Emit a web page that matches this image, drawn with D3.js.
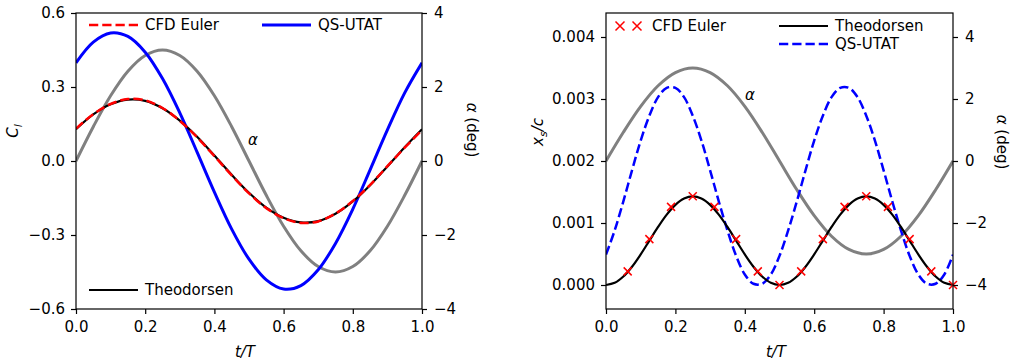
<!DOCTYPE html>
<html>
<head>
<meta charset="utf-8">
<script src="https://cdn.jsdelivr.net/npm/d3@7"></script>
<style>
  body { margin: 0; background: #fff; }
  svg { font-family: "DejaVu Sans", sans-serif; }
  .tick text { font-family: "DejaVu Sans", sans-serif; font-size: 15px; fill: #000; }
  .domain { display: none; }
  .tick line { stroke: #000; stroke-width: 1.2; }
</style>
</head>
<body>
<svg id="chart" width="1020" height="364"></svg>
<script>
// --- data --------------------------------------------------------------------

// left panel: lift coefficient vs t/T (samples every 0.05)
const tL = d3.range(21).map(i => i * 0.05);
const clTheodorsen = [0.129, 0.189, 0.230, 0.249, 0.244, 0.214, 0.164, 0.098, 0.022, -0.056,
  -0.129, -0.189, -0.230, -0.249, -0.244, -0.214, -0.164, -0.098, -0.022, 0.056, 0.129];
const clCFD = [0.131, 0.190, 0.231, 0.251, 0.246, 0.215, 0.163, 0.096, 0.020, -0.058,
  -0.131, -0.191, -0.232, -0.251, -0.245, -0.213, -0.162, -0.097, -0.021, 0.054, 0.125];
const clQS = [0.398, 0.482, 0.519, 0.505, 0.441, 0.334, 0.195, 0.036, -0.126, -0.276,
  -0.398, -0.482, -0.519, -0.505, -0.441, -0.334, -0.195, -0.036, 0.126, 0.276, 0.398];
const alphaDeg = [0, 0.927, 1.763, 2.427, 2.853, 3.0, 2.853, 2.427, 1.763, 0.927,
  0, -0.927, -1.763, -2.427, -2.853, -3.0, -2.853, -2.427, -1.763, -0.927, 0];

// right panel: separation point x_s/c vs t/T (samples every 0.025)
const tR = d3.range(41).map(i => i * 0.025);
const xsTheodorsen = [0, 0.000035, 0.000137, 0.000295, 0.000494, 0.000715, 0.000936, 0.001135, 0.001293, 0.001395,
  0.00143, 0.001395, 0.001293, 0.001135, 0.000936, 0.000715, 0.000494, 0.000295, 0.000137, 0.000035,
  0, 0.000035, 0.000137, 0.000295, 0.000494, 0.000715, 0.000936, 0.001135, 0.001293, 0.001395,
  0.00143, 0.001395, 0.001293, 0.001135, 0.000936, 0.000715, 0.000494, 0.000295, 0.000137, 0.000035, 0];
const xsQS = [0.00049, 0.00088, 0.00135, 0.00185, 0.00233, 0.00273, 0.00303, 0.00318, 0.00318, 0.00303,
  0.00273, 0.00233, 0.00185, 0.00135, 0.00088, 0.00047, 0.00017, 0.00002, 0.00002, 0.00017,
  0.00047, 0.00088, 0.00135, 0.00185, 0.00233, 0.00273, 0.00303, 0.00318, 0.00318, 0.00303,
  0.00273, 0.00233, 0.00185, 0.00135, 0.00088, 0.00047, 0.00017, 0.00002, 0.00002, 0.00017, 0.00049];
const tCFD = [0.0625, 0.125, 0.1875, 0.25, 0.3125, 0.375, 0.4375, 0.5,
  0.5625, 0.625, 0.6875, 0.75, 0.8125, 0.875, 0.9375, 1.0];
const xsCFD = [0.00022, 0.00074, 0.00126, 0.00143, 0.00126, 0.00074, 0.00022, 0.0,
  0.00022, 0.00074, 0.00126, 0.00143, 0.00126, 0.00074, 0.00022, 0.0];

const xTicks = [0, 0.2, 0.4, 0.6, 0.8, 1.0];
const clTicks = [-0.6, -0.3, 0, 0.3, 0.6];
const xsTicks = [0, 0.001, 0.002, 0.003, 0.004];
const alphaTicks = [-4, -2, 0, 2, 4];

// --- layout ----------------------------------------------------------------
const svg = d3.select('#chart');
const fmtMinus = f => d => f(d).replace('-', '\u2212');
const DASH = '9.25,4';

function panel(x0, x1, y0, y1) {
  return { x0, x1, y0, y1, g: svg.append('g') };
}

function frame(p, x, yl, yr, yFmt) {
  const { g } = p;
  g.append('g').attr('transform', `translate(0,${p.y1})`)
    .call(d3.axisBottom(x).tickValues(xTicks).tickFormat(d3.format('.1f')).tickSize(5).tickPadding(7));
  g.append('g').attr('transform', `translate(${p.x0},0)`)
    .call(d3.axisLeft(yl).tickValues(p.lTicks).tickFormat(fmtMinus(yFmt)).tickSize(5).tickPadding(6));
  g.append('g').attr('transform', `translate(${p.x1},0)`)
    .call(d3.axisRight(yr).tickValues(alphaTicks).tickFormat(fmtMinus(d3.format('d'))).tickSize(5).tickPadding(7));
  g.append('rect')
    .attr('x', p.x0).attr('y', p.y0)
    .attr('width', p.x1 - p.x0).attr('height', p.y1 - p.y0)
    .attr('fill', 'none').attr('stroke', '#000').attr('stroke-width', 1.2);
}

function clip(p, id) {
  svg.append('clipPath').attr('id', id).append('rect')
    .attr('x', p.x0).attr('y', p.y0).attr('width', p.x1 - p.x0).attr('height', p.y1 - p.y0);
  return p.g.append('g').attr('clip-path', `url(#${id})`);
}

function addLine(g, xs, ys, x, y, color, width, dash) {
  const line = d3.line().x((d, i) => x(xs[i])).y(d => y(d)).curve(d3.curveCatmullRom);
  g.append('path').datum(ys)
    .attr('d', line)
    .attr('fill', 'none')
    .attr('stroke', color)
    .attr('stroke-width', width)
    .attr('stroke-dasharray', dash || null);
}

function cross(g, cx, cy, r, color) {
  g.append('path')
    .attr('d', `M${cx - r},${cy - r}L${cx + r},${cy + r}M${cx - r},${cy + r}L${cx + r},${cy - r}`)
    .attr('stroke', color).attr('stroke-width', 1.5).attr('fill', 'none');
}

function legendLine(g, x, y, color, width, dash, label) {
  g.append('line').attr('x1', x).attr('x2', x + 49).attr('y1', y).attr('y2', y)
    .attr('stroke', color).attr('stroke-width', width).attr('stroke-dasharray', dash || null);
  g.append('text').attr('x', x + 56).attr('y', y).attr('dy', '0.35em')
    .attr('font-size', 15).text(label);
}

function yLabelLeft(g, x, y, node) {
  const t = g.append('text').attr('transform', `translate(${x},${y}) rotate(-90)`)
    .attr('text-anchor', 'middle').attr('font-size', 15);
  node(t);
}

function alphaLabel(g, x, y) {
  const t = g.append('text').attr('transform', `translate(${x},${y}) rotate(90)`)
    .attr('text-anchor', 'middle').attr('font-size', 15);
  t.append('tspan').attr('font-style', 'italic').text('\u03b1');
  t.append('tspan').text(' (deg)');
}

function xLabel(g, x, y) {
  g.append('text').attr('x', x).attr('y', y)
    .attr('text-anchor', 'middle').attr('font-size', 15).attr('font-style', 'italic')
    .text('t/T');
}

// --- left panel ------------------------------------------------------------
const L = panel(76, 422, 13, 309);
L.lTicks = clTicks;
const xL = d3.scaleLinear().domain([0, 1]).range([L.x0, L.x1]);
const yCl = d3.scaleLinear().domain([-0.6, 0.6]).range([L.y1, L.y0]);
const yAL = d3.scaleLinear().domain([-4, 4]).range([L.y1, L.y0]);

const gL = clip(L, 'clipL');
addLine(gL, tL, alphaDeg, xL, yAL, '#808080', 3);
addLine(gL, tL, clQS, xL, yCl, '#0000ff', 3);
addLine(gL, tL, clTheodorsen, xL, yCl, '#000', 2.2);
addLine(gL, tL, clCFD, xL, yCl, '#ff0000', 2.5, DASH);
frame(L, xL, yCl, yAL, d3.format('.1f'));

L.g.append('text').attr('x', 253).attr('y', 140).attr('dy', '0.35em')
  .attr('text-anchor', 'middle').attr('font-size', 15).attr('font-style', 'italic').text('\u03b1');
legendLine(L.g, 89, 25, '#ff0000', 2.5, DASH, 'CFD Euler');
legendLine(L.g, 262, 25, '#0000ff', 3, null, 'QS-UTAT');
legendLine(L.g, 89, 290, '#000', 2.2, null, 'Theodorsen');

yLabelLeft(L.g, 18, 131, t => {
  t.append('tspan').attr('font-style', 'italic').text('C');
  t.append('tspan').attr('font-style', 'italic').attr('font-size', 11).attr('dy', 4).text('l');
});
alphaLabel(L.g, 467, 130);
xLabel(L.g, 245, 357);

// --- right panel -----------------------------------------------------------
const R = panel(606, 953, 13, 309);
R.lTicks = xsTicks;
const xR = d3.scaleLinear().domain([0, 1]).range([R.x0, R.x1]);
const yXs = d3.scaleLinear().domain([-0.000387, 0.004387]).range([R.y1, R.y0]);
const yAR = d3.scaleLinear().domain([-4.774, 4.774]).range([R.y1, R.y0]);

const gR = clip(R, 'clipR');
addLine(gR, tL, alphaDeg, xR, yAR, '#808080', 3);
addLine(gR, tR, xsQS, xR, yXs, '#0000ff', 2.5, DASH);
addLine(gR, tR, xsTheodorsen, xR, yXs, '#000', 2.2);
tCFD.forEach((t, i) => cross(R.g, xR(t), yXs(xsCFD[i]), 4, '#ff0000'));
frame(R, xR, yXs, yAR, d3.format('.3f'));

R.g.append('text').attr('x', 750).attr('y', 95).attr('dy', '0.35em')
  .attr('text-anchor', 'middle').attr('font-size', 15).attr('font-style', 'italic').text('\u03b1');
cross(R.g, 620, 26, 4.5, '#ff0000');
cross(R.g, 637, 26, 4.5, '#ff0000');
R.g.append('text').attr('x', 652).attr('y', 26).attr('dy', '0.35em').attr('font-size', 15).text('CFD Euler');
legendLine(R.g, 779, 26, '#000', 2.2, null, 'Theodorsen');
legendLine(R.g, 779, 44, '#0000ff', 2.5, DASH, 'QS-UTAT');

yLabelLeft(R.g, 543, 132, t => {
  t.append('tspan').attr('font-style', 'italic').text('x');
  t.append('tspan').attr('font-style', 'italic').attr('font-size', 11).attr('dy', 4).text('s');
  t.append('tspan').attr('font-style', 'italic').attr('dy', -4).text('/c');
});
alphaLabel(R.g, 997, 142);
xLabel(R.g, 776, 357);
</script>
</body>
</html>
